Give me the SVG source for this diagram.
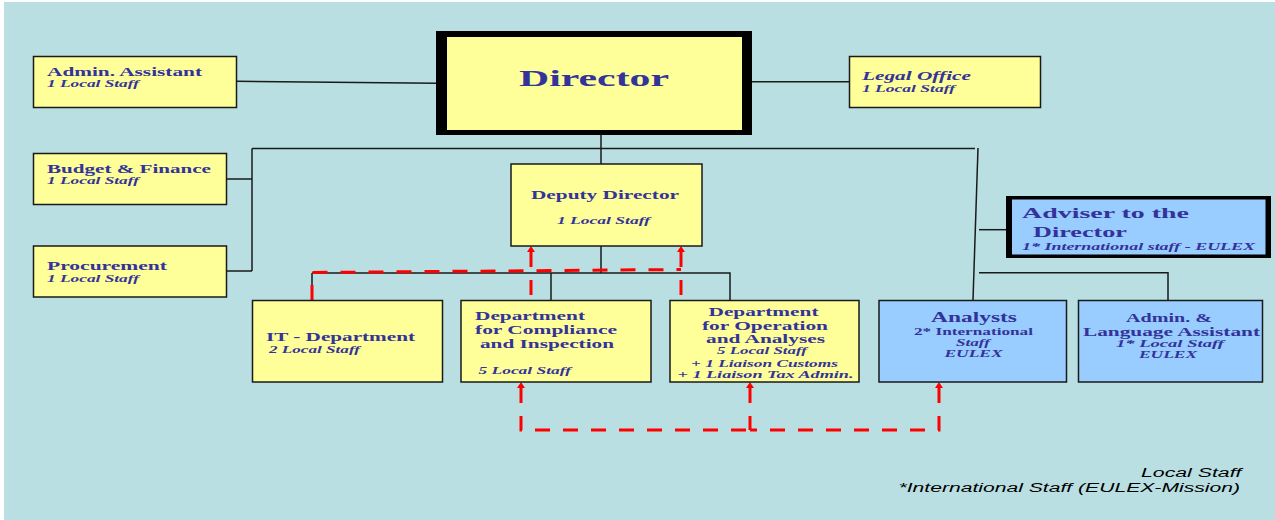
<svg xmlns="http://www.w3.org/2000/svg" width="1275" height="520" viewBox="0 0 1275 520">
<style>
.y{fill:#ffff99;stroke:#1a1a1a;stroke-width:1.5}
.b{fill:#99ccff;stroke:#1a1a1a;stroke-width:1.5}
.t{font-family:"Liberation Serif","Times New Roman",serif;font-weight:bold;fill:#333399;font-size:13px}
.i{font-style:italic;font-size:11px}
.ln{fill:none;stroke:#1a1a1a;stroke-width:1.5}
.rd{fill:none;stroke:#ff0000;stroke-width:3;stroke-dasharray:15 13}
.lg{font-family:"Liberation Sans",Arial,sans-serif;font-style:italic;font-size:12px;fill:#000}
</style>
<defs>
<marker id="arr" markerUnits="userSpaceOnUse" viewBox="0 0 10 10" markerWidth="10" markerHeight="10" refX="0" refY="5" orient="auto-start-reverse">
<path d="M0,1 L6,5 L0,9 Z" fill="#ff0000"/>
</marker>
</defs>
<rect x="0" y="0" width="1275" height="520" fill="#ffffff"/>
<rect x="4" y="2" width="1271" height="518" fill="#b9dfe2"/>

<g id="connectors">
<path class="ln" d="M236,81.3 L436,83.3"/>
<path class="ln" d="M752,81.7 H849"/>
<path class="ln" d="M601,135 V164"/>
<path class="ln" d="M252,148.5 H975"/>
<path class="ln" d="M978,148 L973,300"/>
<path class="ln" d="M252,148.5 V271"/>
<path class="ln" d="M226,179 H252"/>
<path class="ln" d="M226,271 H252"/>
<path class="ln" d="M601,246 V273"/>
<path class="ln" d="M312,273 H730 V300"/>
<path class="ln" d="M312,273 V300"/>
<path class="ln" d="M551,273 V300"/>
<path class="ln" d="M979,229.7 H1006"/>
<path class="ln" d="M979,272.7 H1168 V300"/>
<path class="rd" d="M312,300 V272.5 L681,269.5"/>
<path class="rd" d="M531,252 V300" marker-start="url(#arr)"/>
<path class="rd" d="M681,252 V300" marker-start="url(#arr)"/>
<path class="rd" d="M521,388 V430 H750" marker-start="url(#arr)"/>
<path class="rd" d="M939,388 V430 H750" marker-start="url(#arr)"/>
<path class="rd" d="M750,388 V430" marker-start="url(#arr)"/>
</g>

<g id="admin-assistant">
<rect class="y" x="33.5" y="56.5" width="203" height="51"/>
<text class="t" x="47" y="75.5" textLength="155" lengthAdjust="spacingAndGlyphs">Admin. Assistant</text>
<text class="t i" x="47" y="86.5" textLength="92" lengthAdjust="spacingAndGlyphs">1 Local Staff</text>
</g>

<g id="director">
<rect x="436" y="31" width="316" height="104" fill="#000"/>
<rect x="447" y="37" width="295" height="93" fill="#ffff99"/>
<text class="t" x="519" y="86" style="font-size:24px" textLength="150" lengthAdjust="spacingAndGlyphs">Director</text>
</g>

<g id="legal-office">
<rect class="y" x="849.5" y="56.5" width="191" height="51"/>
<text class="t" x="862" y="80" style="font-style:italic" textLength="109" lengthAdjust="spacingAndGlyphs">Legal Office</text>
<text class="t i" x="862" y="92" textLength="93" lengthAdjust="spacingAndGlyphs">1 Local Staff</text>
</g>

<g id="budget-finance">
<rect class="y" x="33.5" y="153.5" width="193" height="51"/>
<text class="t" x="47" y="172.5" textLength="164" lengthAdjust="spacingAndGlyphs">Budget &amp; Finance</text>
<text class="t i" x="47" y="184" textLength="92" lengthAdjust="spacingAndGlyphs">1 Local Staff</text>
</g>

<g id="procurement">
<rect class="y" x="33.5" y="246" width="193" height="51"/>
<text class="t" x="47" y="270" textLength="120" lengthAdjust="spacingAndGlyphs">Procurement</text>
<text class="t i" x="47" y="282" textLength="92" lengthAdjust="spacingAndGlyphs">1 Local Staff</text>
</g>

<g id="deputy-director">
<rect class="y" x="511" y="164" width="191" height="82"/>
<text class="t" x="531" y="199" style="font-size:13.5px" textLength="148" lengthAdjust="spacingAndGlyphs">Deputy Director</text>
<text class="t i" x="557" y="223.5" textLength="93" lengthAdjust="spacingAndGlyphs">1 Local Staff</text>
</g>

<g id="adviser">
<rect x="1006" y="196" width="265" height="62" fill="#000"/>
<rect x="1012" y="199.5" width="253.5" height="55" fill="#99ccff"/>
<text class="t" x="1022" y="217.5" style="font-size:15px" textLength="167" lengthAdjust="spacingAndGlyphs">Adviser to the</text>
<text class="t" x="1033" y="236.5" style="font-size:15px" textLength="94" lengthAdjust="spacingAndGlyphs">Director</text>
<text class="t i" x="1022" y="250" textLength="233" lengthAdjust="spacingAndGlyphs">1* International staff  - EULEX</text>
</g>

<g id="it-department">
<rect class="y" x="252.5" y="300.5" width="190" height="81.5"/>
<text class="t" x="266" y="341" textLength="149" lengthAdjust="spacingAndGlyphs">IT - Department</text>
<text class="t i" x="269" y="352.7" textLength="91" lengthAdjust="spacingAndGlyphs">2 Local Staff</text>
</g>

<g id="compliance">
<rect class="y" x="461" y="300.5" width="190" height="81.5"/>
<text class="t" x="475" y="320" textLength="110" lengthAdjust="spacingAndGlyphs">Department</text>
<text class="t" x="475" y="334" textLength="142" lengthAdjust="spacingAndGlyphs">for Compliance</text>
<text class="t" x="480" y="347.7" textLength="134" lengthAdjust="spacingAndGlyphs">and Inspection</text>
<text class="t i" x="478.5" y="373.5" textLength="92.5" lengthAdjust="spacingAndGlyphs">5 Local Staff</text>
</g>

<g id="operation">
<rect class="y" x="670" y="300.5" width="189" height="81.5"/>
<text class="t" x="708.5" y="315.7" textLength="110" lengthAdjust="spacingAndGlyphs">Department</text>
<text class="t" x="702" y="330" textLength="126" lengthAdjust="spacingAndGlyphs">for Operation</text>
<text class="t" x="706" y="343.3" textLength="119" lengthAdjust="spacingAndGlyphs">and Analyses</text>
<text class="t i" x="717" y="354.3" textLength="90" lengthAdjust="spacingAndGlyphs">5 Local Staff</text>
<text class="t i" x="691" y="366.7" textLength="147" lengthAdjust="spacingAndGlyphs">+ 1 Liaison Customs</text>
<text class="t i" x="677.5" y="378.3" textLength="176" lengthAdjust="spacingAndGlyphs">+ 1 Liaison Tax Admin.</text>
</g>

<g id="analysts">
<rect class="b" x="879" y="300.5" width="187.5" height="81.5"/>
<text class="t" x="931" y="322.3" style="font-size:14.5px" textLength="86" lengthAdjust="spacingAndGlyphs">Analysts</text>
<text class="t" x="914" y="335" style="font-size:10.5px" textLength="119" lengthAdjust="spacingAndGlyphs">2* International</text>
<text class="t i" x="956" y="346" textLength="34" lengthAdjust="spacingAndGlyphs">Staff</text>
<text class="t i" x="944.5" y="357.3" textLength="58" lengthAdjust="spacingAndGlyphs">EULEX</text>
</g>

<g id="admin-language">
<rect class="b" x="1078.5" y="300.5" width="184" height="81.5"/>
<text class="t" x="1126" y="321.7" textLength="86" lengthAdjust="spacingAndGlyphs">Admin. &amp;</text>
<text class="t" x="1083" y="336" textLength="177" lengthAdjust="spacingAndGlyphs">Language Assistant</text>
<text class="t i" x="1116" y="346.7" textLength="108" lengthAdjust="spacingAndGlyphs">1* Local Staff</text>
<text class="t i" x="1139" y="358.3" textLength="58" lengthAdjust="spacingAndGlyphs">EULEX</text>
</g>

<g id="legend">
<text class="lg" x="1141" y="477.3" textLength="100.5" lengthAdjust="spacingAndGlyphs">Local Staff</text>
<text class="lg" x="898.5" y="492.3" textLength="341.5" lengthAdjust="spacingAndGlyphs">*International Staff (EULEX-Mission)</text>
</g>
</svg>
